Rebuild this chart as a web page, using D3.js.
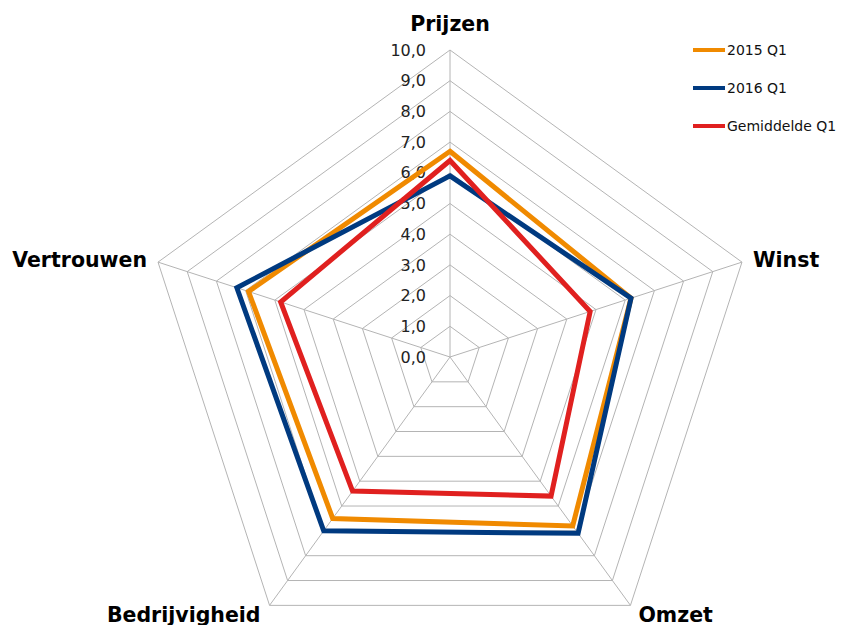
<!DOCTYPE html>
<html>
<head>
<meta charset="utf-8">
<script src="https://cdn.jsdelivr.net/npm/d3@7"></script>
<style>
  body { margin: 0; background: #fff; }
  svg text { font-family: "DejaVu Sans", Verdana, sans-serif; }
</style>
</head>
<body>
<div id="chart"></div>
<script>
// Axes (clockwise from top) and series values
const axes = ["Prijzen", "Winst", "Omzet", "Bedrijvigheid", "Vertrouwen"];
const seriesNames = ["2015 Q1", "2016 Q1", "Gemiddelde Q1"];
const values2015 = [6.7, 6.2, 6.8, 6.5, 6.9];
const values2016 = [5.9, 6.2, 7.1, 7.0, 7.3];
const valuesAvg = [6.4, 4.8, 5.6, 5.4, 5.8];
const tickValues = [0, 1, 2, 3, 4, 5, 6, 7, 8, 9, 10];
const colors = ["#f08a00", "#003a80", "#e0201f"];

const width = 841, height = 625;
const cx = 450, cy = 357, radius = 307;

const svg = d3.select("#chart")
  .append("svg")
  .attr("width", width)
  .attr("height", height);

const r = d3.scaleLinear().domain([0, 10]).range([0, radius]);
const angle = (i) => (i * 2 * Math.PI) / axes.length;
const point = (i, v) => [cx + r(v) * Math.sin(angle(i)), cy - r(v) * Math.cos(angle(i))];

const line = d3.line().curve(d3.curveLinearClosed);

// Grid rings
const grid = svg.append("g");
tickValues.slice(1).forEach((t) => {
  grid.append("path")
    .attr("d", line(axes.map((a, i) => point(i, t))))
    .attr("fill", "none")
    .attr("stroke", "#b4b4b4")
    .attr("stroke-width", 1);
});

// Spokes
axes.forEach((a, i) => {
  const [x, y] = point(i, 10);
  grid.append("line")
    .attr("x1", cx).attr("y1", cy)
    .attr("x2", x).attr("y2", y)
    .attr("stroke", "#b4b4b4")
    .attr("stroke-width", 1);
});

// Tick labels
const fmt = (v) => d3.format(".1f")(v).replace(".", ",");
svg.append("g")
  .selectAll("text")
  .data(tickValues)
  .enter()
  .append("text")
  .attr("x", cx - 24)
  .attr("y", (d) => cy - r(d))
  .attr("dy", "0.35em")
  .attr("text-anchor", "end")
  .attr("font-size", 16)
  .attr("fill", "#222")
  .text(fmt);

// Series
const allSeries = [values2015, values2016, valuesAvg];
allSeries.forEach((vals, s) => {
  svg.append("path")
    .attr("d", line(vals.map((v, i) => point(i, v))))
    .attr("fill", "none")
    .attr("stroke", colors[s])
    .attr("stroke-width", 5)
    .attr("stroke-linejoin", "miter");
});

// Axis labels
const labelPos = [
  { dx: 0, dy: -19, anchor: "middle" },
  { dx: 11, dy: 5, anchor: "start" },
  { dx: 8, dy: 17, anchor: "start" },
  { dx: -9, dy: 17, anchor: "end" },
  { dx: -11, dy: 5, anchor: "end" },
];
axes.forEach((a, i) => {
  const [x, y] = point(i, 10);
  svg.append("text")
    .attr("x", x + labelPos[i].dx)
    .attr("y", y + labelPos[i].dy)
    .attr("text-anchor", labelPos[i].anchor)
    .attr("font-size", 20.5)
    .attr("font-weight", "bold")
    .attr("fill", "#000")
    .text(a);
});

// Legend
const legend = svg.append("g").attr("transform", "translate(693,50)");
seriesNames.forEach((name, s) => {
  const g = legend.append("g").attr("transform", `translate(0,${s * 38})`);
  g.append("line")
    .attr("x1", 0).attr("x2", 32)
    .attr("y1", 0).attr("y2", 0)
    .attr("stroke", colors[s])
    .attr("stroke-width", 4);
  g.append("text")
    .attr("x", 34)
    .attr("dy", "0.35em")
    .attr("font-size", 14)
    .attr("fill", "#111")
    .text(name);
});
</script>
</body>
</html>
